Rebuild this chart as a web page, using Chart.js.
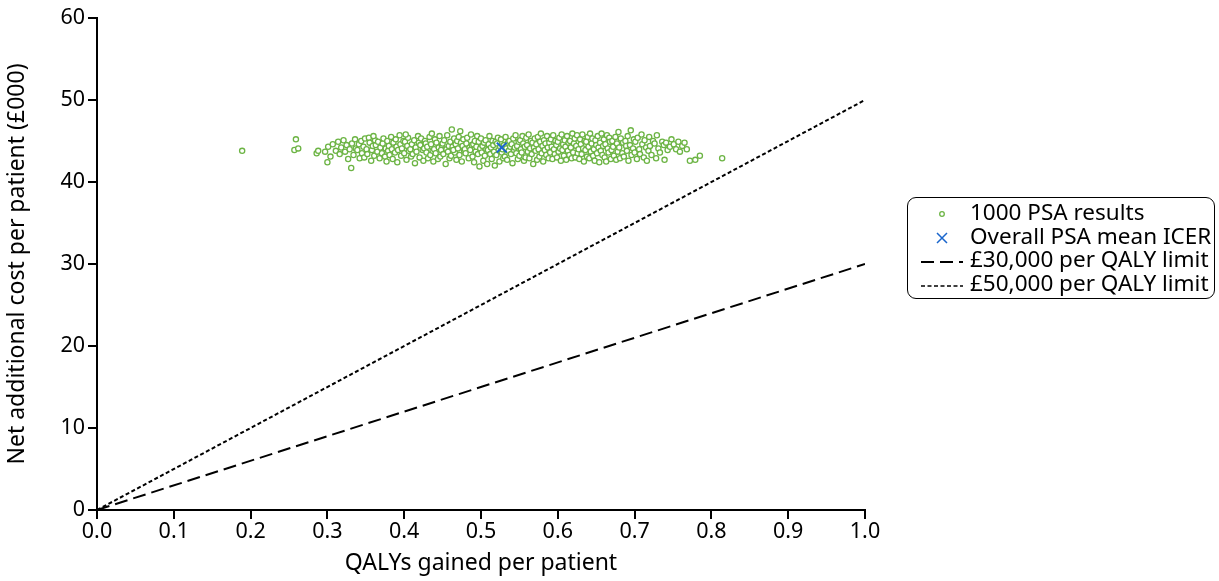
<!DOCTYPE html>
<html>
<head>
<meta charset="utf-8">
<script src="https://cdn.jsdelivr.net/npm/chart.js@4/dist/chart.umd.min.js"></script>
<style>
  body { margin: 0; background: #fff; }
  #wrap { position: relative; width: 1219px; height: 581px; }
  #legend {
    position: absolute; left: 907px; top: 197px; width: 306px; height: 96px;
    border: 1.5px solid #000; border-radius: 9px; background: #fff;
    font-family: "Noto Sans", sans-serif; font-size: 22.5px; color: #000;
    padding-top: 4px; box-sizing: content-box;
  }
  .row { position: relative; height: 23.5px; line-height: 23.5px; }
  .row canvas { position: absolute; left: 0; top: 0; }
  .row span { position: absolute; left: 62px; top: -2px; white-space: nowrap; }
</style>
</head>
<body>
<div id="wrap">
  <canvas id="myChart" width="1219" height="581"></canvas>
  <div id="legend"></div>
</div>
<script>
// 1000 PSA results (QALYs gained, cost £000), thinned
const psaResults=[
[0.189,43.8],[0.257,43.9],[0.259,45.2],[0.262,44.1],[0.286,43.5],[0.288,43.8],[0.297,43.7],[0.300,42.4],
[0.301,44.3],[0.304,43.1],[0.307,44.6],[0.311,43.8],[0.314,44.9],[0.316,43.4],[0.318,44.2],
[0.321,45.1],[0.323,43.7],[0.325,44.5],[0.327,42.8],[0.329,44.0],
[0.331,41.7],[0.332,44.7],[0.334,43.3],[0.336,45.2],[0.337,44.1],[0.339,43.9],
[0.341,44.6],[0.342,42.9],[0.344,45.0],[0.345,43.5],[0.347,44.3],[0.348,43.0],[0.349,45.3],
[0.351,44.0],[0.352,43.4],[0.354,45.4],[0.355,44.8],[0.357,42.6],[0.358,43.9],[0.359,44.4],
[0.361,43.2],[0.362,45.1],[0.363,44.5],[0.365,43.7],[0.366,44.9],[0.368,42.9],[0.369,44.2],[0.360,45.6],
[0.371,43.5],[0.372,44.7],[0.373,45.3],[0.375,43.1],[0.376,44.1],[0.377,42.5],[0.378,45.0],[0.379,43.8],
[0.380,44.4],[0.381,43.3],[0.383,45.5],[0.384,44.0],[0.385,42.8],[0.386,44.8],[0.388,43.6],[0.389,45.2],
[0.390,44.3],[0.391,42.4],[0.392,43.9],[0.394,45.7],[0.395,44.6],[0.396,43.2],[0.397,44.1],[0.399,45.0],
[0.400,43.5],[0.401,44.9],[0.403,42.7],[0.404,44.4],[0.405,45.4],[0.406,43.8],[0.408,44.0],[0.409,43.1],[0.402,45.8],
[0.410,44.6],[0.411,43.4],[0.413,45.1],[0.414,42.3],[0.415,44.2],[0.416,43.7],[0.418,45.6],[0.419,44.8],
[0.420,43.0],[0.421,44.5],[0.422,45.3],[0.424,43.9],[0.425,42.6],[0.426,44.1],[0.427,45.0],[0.429,43.6],[0.428,44.7],
[0.430,44.3],[0.431,42.9],[0.433,45.5],[0.434,43.3],[0.435,44.6],[0.436,45.9],[0.437,43.8],[0.439,44.0],[0.438,42.5],
[0.440,45.2],[0.441,43.5],[0.442,44.8],[0.444,42.8],[0.445,44.2],[0.446,45.6],[0.447,43.1],[0.449,44.5],[0.448,43.9],
[0.450,44.7],[0.451,43.4],[0.452,45.1],[0.454,42.2],[0.455,44.0],[0.456,45.7],[0.457,43.7],[0.458,44.4],[0.459,42.9],
[0.460,44.9],[0.461,43.2],[0.462,46.4],[0.463,44.3],[0.465,45.3],[0.466,43.6],[0.467,44.6],[0.468,42.7],[0.469,45.0],[0.464,43.9],
[0.470,44.1],[0.471,45.5],[0.472,43.3],[0.474,44.8],[0.475,42.5],[0.476,44.4],[0.477,45.2],[0.478,43.8],[0.479,44.0],[0.473,46.2],
[0.480,43.5],[0.481,44.7],[0.482,45.4],[0.484,42.9],[0.485,44.2],[0.486,43.9],[0.487,45.8],[0.488,44.5],[0.489,43.1],
[0.490,44.6],[0.491,42.4],[0.492,45.0],[0.493,43.7],[0.494,44.3],[0.495,45.6],[0.496,43.4],[0.497,44.9],[0.498,41.9],[0.499,44.1],
[0.500,45.3],[0.501,43.6],[0.502,44.4],[0.503,42.6],[0.504,44.8],[0.505,43.2],[0.506,45.1],[0.507,44.0],[0.508,42.2],[0.509,43.9],
[0.510,44.6],[0.511,45.6],[0.512,43.4],[0.513,44.2],[0.514,42.8],[0.515,45.0],[0.516,44.5],[0.517,43.7],[0.518,42.0],[0.519,44.9],
[0.520,43.3],[0.521,44.7],[0.522,45.4],[0.523,43.9],[0.524,42.5],[0.525,44.3],[0.526,45.2],[0.527,43.6],[0.528,44.0],[0.529,42.9],
[0.530,44.5],[0.531,43.1],[0.532,45.5],[0.533,44.1],[0.534,42.7],[0.535,44.8],[0.536,43.8],[0.537,45.0],[0.538,44.3],[0.539,43.4],
[0.540,44.6],[0.541,42.3],[0.542,45.3],[0.543,43.9],[0.544,44.2],[0.545,45.7],[0.546,43.5],[0.547,44.4],[0.548,42.8],[0.549,44.9],
[0.550,43.2],[0.551,45.1],[0.552,44.0],[0.553,43.6],[0.554,45.6],[0.555,44.7],[0.556,42.6],[0.557,44.3],[0.558,43.0],[0.559,45.4],
[0.560,44.5],[0.561,43.7],[0.562,45.8],[0.563,42.9],[0.564,44.1],[0.565,45.0],[0.566,43.4],[0.567,44.8],[0.568,42.2],[0.569,44.2],
[0.570,45.3],[0.571,43.8],[0.572,44.6],[0.573,42.7],[0.574,45.5],[0.575,44.0],[0.576,43.1],[0.577,44.9],[0.578,45.9],[0.579,43.5],
[0.580,44.4],[0.581,42.5],[0.582,45.1],[0.583,43.9],[0.584,44.7],[0.585,43.3],[0.586,45.6],[0.587,44.2],[0.588,42.9],[0.589,44.8],
[0.590,43.6],[0.591,45.2],[0.592,44.3],[0.593,42.8],[0.594,45.7],[0.595,44.0],[0.596,43.4],[0.597,45.0],[0.598,44.5],[0.599,43.0],
[0.600,44.9],[0.601,43.7],[0.602,45.4],[0.603,44.1],[0.604,42.6],[0.605,45.8],[0.606,43.9],[0.607,44.6],[0.608,43.2],[0.609,45.1],
[0.610,44.3],[0.611,42.7],[0.612,45.6],[0.613,43.8],[0.614,44.8],[0.615,43.3],[0.616,45.0],[0.617,44.2],[0.618,42.9],[0.619,45.9],
[0.620,43.6],[0.621,44.7],[0.622,45.3],[0.623,43.0],[0.624,44.4],[0.625,45.7],[0.626,43.5],[0.627,44.0],[0.628,42.8],[0.629,45.2],
[0.630,44.6],[0.631,43.4],[0.632,45.8],[0.633,44.1],[0.634,42.5],[0.635,45.0],[0.636,43.9],[0.637,44.9],[0.638,43.1],[0.639,45.5],
[0.640,44.3],[0.641,42.9],[0.642,45.9],[0.643,43.7],[0.644,44.7],[0.645,45.3],[0.646,43.2],[0.647,44.0],[0.648,42.6],[0.649,45.1],
[0.650,44.5],[0.651,43.5],[0.652,45.6],[0.653,44.2],[0.654,42.4],[0.655,44.8],[0.656,43.8],[0.657,45.9],[0.658,43.3],[0.659,44.4],
[0.660,45.2],[0.661,43.0],[0.662,44.6],[0.663,42.5],[0.664,45.7],[0.665,44.1],[0.666,43.6],[0.667,45.4],[0.668,44.9],[0.669,42.8],
[0.670,43.9],[0.671,45.0],[0.672,44.3],[0.673,43.2],[0.675,45.5],[0.676,42.7],[0.677,44.7],[0.678,43.7],[0.679,46.1],
[0.680,44.2],[0.681,42.9],[0.682,45.3],[0.684,43.5],[0.685,44.8],[0.686,43.1],[0.688,45.0],[0.689,44.4],
[0.690,43.8],[0.691,45.6],[0.692,42.6],[0.694,44.5],[0.695,46.3],[0.696,43.3],[0.698,44.1],[0.699,45.2],
[0.700,43.6],[0.701,44.9],[0.703,42.8],[0.704,45.4],[0.706,44.0],[0.707,43.4],[0.709,45.8],
[0.710,44.6],[0.712,43.0],[0.713,45.1],[0.715,44.2],[0.716,42.6],[0.718,43.8],[0.719,45.5],
[0.720,44.4],[0.722,43.3],[0.724,45.0],[0.726,44.7],[0.728,42.9],[0.729,45.7],
[0.731,44.1],[0.733,43.6],[0.736,44.9],[0.738,44.5],[0.739,42.7],
[0.741,44.8],[0.743,43.9],[0.746,44.3],[0.748,45.2],
[0.751,44.6],[0.754,44.0],[0.757,44.9],[0.759,43.7],
[0.762,44.4],[0.765,44.8],[0.768,44.0],
[0.772,42.6],[0.779,42.7],[0.785,43.2],[0.814,42.9]
];
const meanIcer=[[0.527,44.2]];
const wtpQalys=[0,1];
const wtp30k=[0,30];
const wtp50k=[0,50];
const xTicks=[0,0.1,0.2,0.3,0.4,0.5,0.6,0.7,0.8,0.9,1.0];
const yTicks=[0,10,20,30,40,50,60];

const seriesLabels=['1000 PSA results','Overall PSA mean ICER','£30,000 per QALY limit','£50,000 per QALY limit'];
const green='#6cb444', blue='#1a66cc';
const tickFont={family:'"Noto Sans", sans-serif',size:21.5};
const titleFont={family:'"Noto Sans", sans-serif',size:23};

const toXY=(xs,ys)=>xs.map((x,i)=>({x:x,y:ys[i]}));

const ctx=document.getElementById('myChart');
const myChart=new Chart(ctx,{
    type:'scatter',
    data:{
        datasets:[
            {label:seriesLabels[0],data:psaResults.map(p=>({x:p[0],y:p[1]})),pointStyle:'circle',pointRadius:2.6,
             borderColor:green,backgroundColor:'#fff',borderWidth:1.3,order:1},
            {label:seriesLabels[1],data:meanIcer.map(p=>({x:p[0],y:p[1]})),pointStyle:'crossRot',pointRadius:7,
             borderColor:blue,borderWidth:2,order:0},
            {label:seriesLabels[2],type:'line',data:toXY(wtpQalys,wtp30k),borderColor:'#000',borderWidth:2,
             borderDash:[13,6],pointRadius:0,order:2},
            {label:seriesLabels[3],type:'line',data:toXY(wtpQalys,wtp50k),borderColor:'#000',borderWidth:2,
             borderDash:[4,2.5],pointRadius:0,order:2}
        ]
    },
    options:{
        responsive:false,
        animation:false,
        layout:{padding:{left:0,top:18,right:354,bottom:0}},
        plugins:{legend:{display:false},tooltip:{enabled:false}},
        scales:{
            x:{
                type:'linear',min:0,max:1,
                afterBuildTicks:s=>{s.ticks=xTicks.map(v=>({value:v}));},
                afterFit:s=>{s.height=71;},
                ticks:{color:'#000',font:tickFont,padding:0,callback:v=>v.toFixed(1),autoSkip:false,maxRotation:0},
                grid:{drawOnChartArea:false,drawTicks:true,tickLength:9,color:'#000',lineWidth:2},
                border:{color:'#000',width:2},
                title:{display:true,text:'QALYs gained per patient',color:'#000',font:titleFont,padding:{top:6}}
            },
            y:{
                type:'linear',min:0,max:60,
                afterBuildTicks:s=>{s.ticks=yTicks.map(v=>({value:v}));},
                afterFit:s=>{s.width=97;},
                ticks:{color:'#000',font:tickFont,padding:3},
                grid:{drawOnChartArea:false,drawTicks:true,tickLength:9,color:'#000',lineWidth:2},
                border:{color:'#000',width:2},
                title:{display:true,text:'Net additional cost per patient (£000)',color:'#000',font:titleFont,padding:{bottom:2}}
            }
        }
    }
});

// legend box, drawn as html so the text stays text
const legend=document.getElementById('legend');
seriesLabels.forEach((label,i)=>{
    const row=document.createElement('div');
    row.className='row';
    const c=document.createElement('canvas');
    c.width=60;c.height=24;
    const g=c.getContext('2d');
    g.strokeStyle=i==0?green:i==1?blue:'#000';
    if(i==0){g.lineWidth=1.3;g.beginPath();g.arc(34,12,2.3,0,Math.PI*2);g.stroke();}
    if(i==1){g.lineWidth=1.5;g.beginPath();g.moveTo(29,7);g.lineTo(39,17);g.moveTo(39,7);g.lineTo(29,17);g.stroke();}
    if(i==2){g.lineWidth=2;g.setLineDash([13,6]);g.beginPath();g.moveTo(13,13);g.lineTo(55,13);g.stroke();}
    if(i==3){g.lineWidth=1.5;g.setLineDash([4,2.5]);g.beginPath();g.moveTo(13,13);g.lineTo(55,13);g.stroke();}
    row.appendChild(c);
    const t=document.createElement('span');
    t.textContent=label;
    row.appendChild(t);
    legend.appendChild(row);
});
</script>
</body>
</html>
